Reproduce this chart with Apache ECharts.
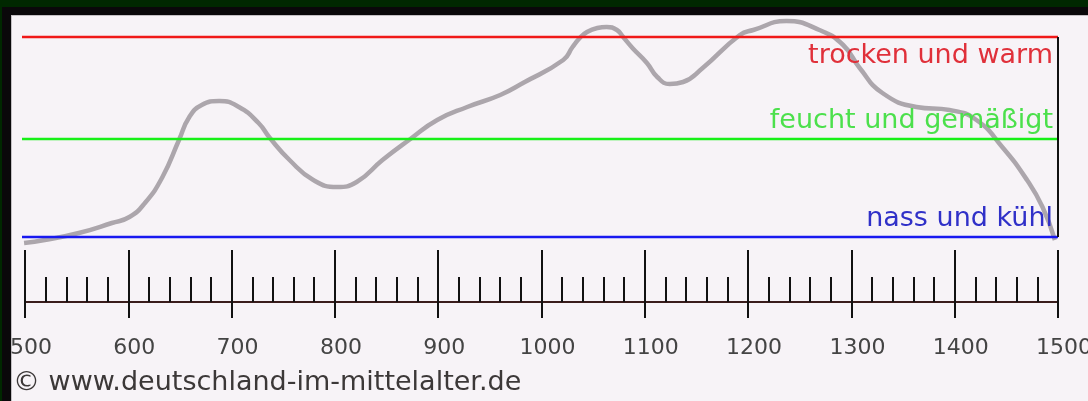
<!DOCTYPE html>
<html>
<head>
<meta charset="utf-8">
<script src="https://cdn.jsdelivr.net/npm/echarts@6/dist/echarts.min.js"></script>
<style>
html,body{margin:0;padding:0;width:1088px;height:401px;overflow:hidden;background:#002800;}
#frame{position:absolute;left:2px;top:7px;right:0;bottom:0;background:#0a080a;}
#panel{position:absolute;left:11px;top:15px;right:0;bottom:0;background:#f7f3f7;border-top:1px solid #c4c0c4;border-left:1px solid #c4c0c4;}
#chart{position:absolute;left:0;top:0;width:1088px;height:401px;}
</style>
</head>
<body>
<div id="frame"></div>
<div id="panel"></div>
<div id="chart"></div>
<script>
// ---- data ----
const years = [499, 519, 552, 584, 601, 616, 633, 649, 659, 671, 688, 707, 726, 737, 756, 779, 802, 821, 846, 873, 899, 928, 960, 982, 1021, 1030, 1037, 1044, 1054, 1063, 1073, 1079, 1088, 1102, 1112, 1124, 1137, 1156, 1192, 1205, 1237, 1269, 1292, 1308, 1330, 1363, 1395, 1421, 1446, 1470, 1485, 1497];
const climate = [-0.06, -0.03, 0.04, 0.14, 0.20, 0.34, 0.60, 0.97, 1.20, 1.32, 1.36, 1.30, 1.14, 0.99, 0.77, 0.57, 0.50, 0.55, 0.77, 0.98, 1.17, 1.30, 1.42, 1.54, 1.77, 1.90, 1.99, 2.05, 2.09, 2.10, 2.07, 2.00, 1.89, 1.74, 1.60, 1.53, 1.55, 1.69, 2.02, 2.07, 2.16, 2.07, 1.92, 1.69, 1.44, 1.30, 1.27, 1.17, 0.90, 0.57, 0.30, -0.03];
const levelNames = ['trocken und warm', 'feucht und gemäßigt', 'nass und kühl'];
const levelValues = [2, 0.98, 0];
const yearMin = 500, yearMax = 1500, yearStep = 100;
const lineStart = 497;
const copyright = '© www.deutschland-im-mittelalter.de';

const lineColors = ['#f01818', '#18f018', '#1818f0'];
const textColors = ['#e0303a', '#4ce04c', '#3030c8'];
const labelPos = ['insideEndBottom', 'insideEndTop', 'insideEndTop'];

const markData = levelValues.map((v, i) => ({
  yAxis: v,
  lineStyle: {color: lineColors[i], width: 2.4, type: 'solid'},
  label: {
    show: true,
    formatter: levelNames[i],
    position: labelPos[i],
    distance: [5, 5],
    color: textColors[i],
    fontFamily: 'DejaVu Sans',
    fontSize: 27
  }
}));
markData.push({
  xAxis: yearMax,
  lineStyle: {color: '#111', width: 2, type: 'solid'},
  label: {show: false}
});

const chart = echarts.init(document.getElementById('chart'), null, {renderer: 'canvas'});
chart.setOption({
  backgroundColor: 'transparent',
  animation: false,
  title: {
    text: copyright,
    left: 13, top: 369, padding: 0,
    textStyle: {fontFamily: 'DejaVu Sans', fontSize: 27, fontWeight: 'normal', color: '#3c3838'}
  },
  grid: [
    {left: 22, right: 30, top: 37, height: 200, outerBoundsMode: 'none', containLabel: false},
    {left: 25, right: 30, top: 250, height: 52, outerBoundsMode: 'none', containLabel: false}
  ],
  xAxis: [
    {gridIndex: 0, type: 'value', min: lineStart, max: yearMax, show: false},
    {
      gridIndex: 1, type: 'value', min: yearMin, max: yearMax, interval: yearStep, position: 'bottom',
      axisLine: {show: true, lineStyle: {color: '#3a1c1c', width: 2}},
      axisTick: {show: true, inside: true, length: 52, lineStyle: {color: '#111', width: 2}},
      minorTick: {show: true, splitNumber: 5, length: 25, lineStyle: {color: '#111', width: 2}},
      axisLabel: {show: false},
      splitLine: {show: false}, minorSplitLine: {show: false}
    },
    {
      gridIndex: 1, type: 'value', min: yearMin, max: yearMax, interval: yearStep, position: 'bottom',
      axisLine: {show: false},
      axisTick: {show: true, inside: false, length: 16, lineStyle: {color: '#111', width: 2}},
      axisLabel: {
        show: true, margin: 35, showMinLabel: true, showMaxLabel: true,
        formatter: v => String(v),
        color: '#444', fontFamily: 'DejaVu Sans', fontSize: 22, padding: [0, 0, 0, 12]
      },
      splitLine: {show: false}
    }
  ],
  yAxis: [
    {gridIndex: 0, type: 'value', min: 0, max: 2, show: false},
    {gridIndex: 1, type: 'value', min: 0, max: 1, show: false}
  ],
  series: [{
    type: 'line',
    xAxisIndex: 0, yAxisIndex: 0,
    data: years.map((y, i) => [y, climate[i]]),
    smooth: 0.5,
    clip: false,
    symbol: 'none',
    lineStyle: {color: '#aca6ac', width: 4.5},
    z: 2,
    markLine: {
      silent: true,
      symbol: ['none', 'none'],
      z: 3,
      data: markData
    }
  }]
});
</script>
</body>
</html>
